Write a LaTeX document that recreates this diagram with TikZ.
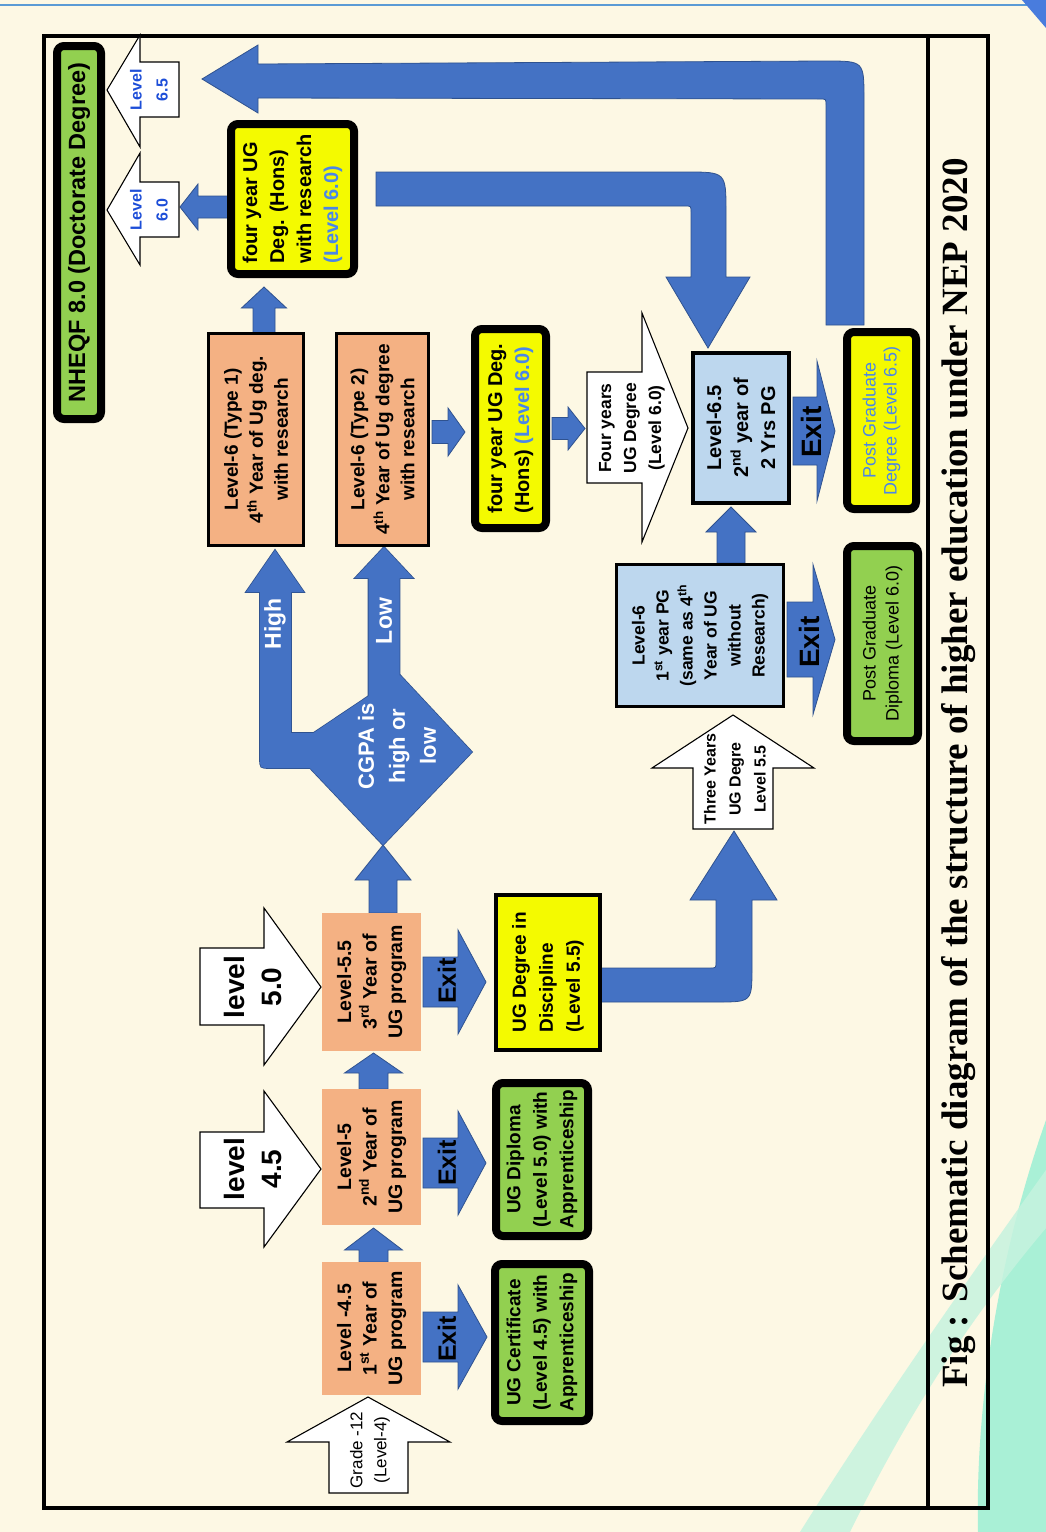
\documentclass[tikz,border=0pt]{standalone}
\usepackage{fontspec}
\setmainfont{Liberation Sans}
\newfontfamily\titlefont{Liberation Serif}
\definecolor{bg}{HTML}{FDF8E4}
\definecolor{arrowblue}{HTML}{4472C4}
\definecolor{arrowedge}{HTML}{2F528F}
\definecolor{salmon}{HTML}{F4B183}
\definecolor{paleblue}{HTML}{BDD7EE}
\definecolor{ygreen}{HTML}{92D050}
\definecolor{yel}{HTML}{F4FA00}
\definecolor{lvlblue}{HTML}{4A86E8}
\definecolor{darkblue}{HTML}{1D4ED8}
\definecolor{mintA}{HTML}{C6F3DF}
\definecolor{mintB}{HTML}{A9F0D6}
\definecolor{topblue}{HTML}{5B9BD5}
\tikzset{
  every node/.style={rotate=90, align=center, inner sep=0pt},
  blockarrow/.style={fill=arrowblue, draw=arrowedge, line width=0.8pt, line join=miter},
  cgpaedge/.style={draw=arrowedge, line width=1.6pt},
  cgpafill/.style={fill=arrowblue},
  whitearrow/.style={fill=white, draw=black, line width=1.1pt, line join=miter},
  boxbase/.style={draw=black, font=\bfseries\fontsize{19}{25}\selectfont},
  thickbox/.style={boxbase, line width=8pt, rounded corners=7pt},
  thinbox/.style={boxbase, line width=3pt},
  plainbox/.style={boxbase, draw=none},
  exittext/.style={font=\bfseries\fontsize{25}{25}\selectfont},
  bigexit/.style={font=\bfseries\fontsize{28}{28}\selectfont},
  whitetext/.style={text=white, font=\bfseries\fontsize{23}{23}\selectfont},
}
\newcommand\hArrow[6]{% x0, xbase, xtip, ycentre, shaft half, head half
  \path[blockarrow] (#1,{#4-#5}) -- (#2,{#4-#5}) -- (#2,{#4-#6}) -- (#3,#4) -- (#2,{#4+#6}) -- (#2,{#4+#5}) -- (#1,{#4+#5}) -- cycle;}
\newcommand\vArrow[6]{% y0, ybase, ytip, xcentre, shaft half, head half
  \path[blockarrow] ({#4-#5},#1) -- ({#4-#5},#2) -- ({#4-#6},#2) -- (#4,#3) -- ({#4+#6},#2) -- ({#4+#5},#2) -- ({#4+#5},#1) -- cycle;}
\begin{document}
\begin{tikzpicture}[x=1pt, y=-1pt]
\useasboundingbox (0,0) rectangle (1046,1532);
\fill[bg] (0,0) rectangle (1046,1532);
% decorations
\fill[mintB] (978,1532) .. controls (975,1400) and (1000,1250) .. (1046,1120) -- (1046,1532) -- cycle;
\fill[mintA, opacity=0.85] (800,1532) .. controls (870,1420) and (960,1290) .. (1046,1170) -- (1046,1228) .. controls (960,1330) and (900,1430) .. (850,1532) -- cycle;
\draw[topblue, line width=1.5pt] (0,5) -- (1030,5);
\fill[topblue!80!blue] (1022,0) -- (1046,0) -- (1046,28) -- cycle;
% frame
\draw[line width=3.5pt] (44,36) rectangle (988,1508);
\draw[line width=3.5pt] (928,36) -- (928,1508);
\node[font=\titlefont\bfseries\fontsize{37}{40}\selectfont] (title) at (959,773) {Fig : Schematic diagram of the structure of higher education under NEP 2020};

% blue block arrows
\hArrow{423}{458}{487}{1337}{25}{52}
\hArrow{423}{458}{486}{1163}{25}{52}
\hArrow{423}{458}{486}{982}{25}{52}
\hArrow{787}{813}{835}{639.5}{37.5}{75}
\hArrow{793}{817}{835}{431}{34}{70}
\hArrow{432}{448}{465}{432}{11.5}{24}
\hArrow{552}{568}{585}{428.5}{11}{21.5}
\hArrow{229}{198}{180}{207}{11}{23}
\vArrow{334}{308}{287}{264}{11}{22.5}
\vArrow{1262}{1250}{1228}{373.5}{14.5}{29}
\vArrow{1089}{1073}{1053}{373.5}{14.5}{29}
\vArrow{913}{880}{845}{383}{14}{28}
\vArrow{563}{532}{507}{731}{14}{25}
% bent arrows
\path[blockarrow] (600,968) -- (710,968) .. controls (716,968) .. (716,962) -- (716,900) -- (690,900) -- (734,831) -- (777,900) -- (752,900) -- (752,967) .. controls (752,1002) .. (717,1002) -- (600,1002) -- cycle;
\path[blockarrow] (376,172) -- (686,172) .. controls (726,172) .. (726,212) -- (726,277) -- (750,277) -- (708,348) -- (666,277) -- (691,277) -- (691,212) .. controls (691,206) .. (685,206) -- (376,206) -- cycle;
\path[blockarrow] (826,325) -- (826,105) .. controls (826,99) .. (820,99) -- (258,98) -- (258,113) -- (202,79) -- (258,45) -- (258,64) -- (826,61) .. controls (864,61) .. (864,99) -- (864,325) -- cycle;
% CGPA decision group
\foreach \st in {cgpaedge, cgpafill} {
  \path[\st] (291,592) -- (291,733) -- (335,733) -- (335,768) -- (270,768) .. controls (260,768) .. (260,758) -- (260,592) -- (246,592) -- (275,550) -- (304,592) -- cycle;
  \path[\st] (368.5,700) -- (368.5,578) -- (355,578) -- (384,547) -- (413,578) -- (399.5,578) -- (399.5,700) -- cycle;
  \path[\st] (400,675) -- (472,752) -- (383,845) -- (291,748) -- cycle;
}
\node[font=\bfseries\fontsize{22}{31}\selectfont, text=white] (cgpa) at (397,746) {CGPA is\\high or\\low};
\node[whitetext] (high) at (275,624) {High};
\node[whitetext] (low) at (384,621) {Low};

% white arrows
\path[whitearrow] (179,62) -- (140,62) -- (140,35) -- (107,90) -- (140,147) -- (140,117) -- (179,117) -- cycle;
\path[whitearrow] (179,182) -- (140,182) -- (140,153) -- (107,210) -- (140,265) -- (140,237) -- (179,237) -- cycle;
\path[whitearrow] (587,372) -- (642,372) -- (642,313) -- (688,428) -- (642,542) -- (642,483) -- (587,483) -- cycle;
\path[whitearrow] (693,829) -- (693,768) -- (652,768) -- (733,715) -- (814,768) -- (773,768) -- (773,829) -- cycle;
\path[whitearrow] (200,948) -- (264,948) -- (264,908) -- (321,987) -- (264,1065) -- (264,1025) -- (200,1025) -- cycle;
\path[whitearrow] (200,1132) -- (264,1132) -- (264,1091) -- (321,1169) -- (264,1247) -- (264,1208) -- (200,1208) -- cycle;
\path[whitearrow] (329,1493) -- (329,1442) -- (287,1442) -- (368,1397) -- (450,1442) -- (408,1442) -- (408,1493) -- cycle;
\node[font=\bfseries\fontsize{16}{26}\selectfont, text=darkblue] (lv65) at (149,90) {Level\\6.5};
\node[font=\bfseries\fontsize{16}{26}\selectfont, text=darkblue] (lv60) at (149,210) {Level\\6.0};
\node[font=\bfseries\fontsize{17.5}{25}\selectfont] (fouryrs) at (632,428) {Four years\\UG Degree\\(Level 6.0)};
\node[font=\bfseries\fontsize{16}{25}\selectfont] (threeyrs) at (735,779) {Three Years\\UG Degre\\Level 5.5};
\node[font=\bfseries\fontsize{28}{37}\selectfont] (lv50) at (253,987) {level\\5.0};
\node[font=\bfseries\fontsize{28}{37}\selectfont] (lv45) at (253,1169) {level\\4.5};
\node[font=\fontsize{17}{24}\selectfont] (grade) at (370,1450) {Grade -12\\(Level-4)};

% boxes
\node[thickbox, fill=ygreen, minimum width=373pt, minimum height=44pt, font=\bfseries\fontsize{23.5}{28}\selectfont] (nheqf) at (79,232.5) {NHEQF 8.0 (Doctorate Degree)};
\node[thickbox, fill=yel, minimum width=150pt, minimum height=123pt, align=left, font=\bfseries\fontsize{20}{27}\selectfont] (research) at (292.5,199) {four year UG\\Deg. (Hons)\\with research\\\textcolor{lvlblue}{(Level 6.0)}};
\node[thinbox, fill=salmon, minimum width=212pt, minimum height=95pt] (t1) at (256,439.5) {Level-6 (Type 1)\\4\textsuperscript{th} Year of Ug deg.\\with research};
\node[thinbox, fill=salmon, minimum width=212pt, minimum height=92pt] (t2) at (382.5,439.5) {Level-6 (Type 2)\\4\textsuperscript{th} Year of Ug degree\\with research};
\node[thickbox, fill=yel, minimum width=199pt, minimum height=71pt, align=left, font=\bfseries\fontsize{20}{27}\selectfont] (fyug) at (510.5,428.5) {four year UG Deg.\\(Hons) \textcolor{lvlblue}{(Level 6.0)}};
\node[boxbase, line width=4pt, fill=paleblue, minimum width=150pt, minimum height=96pt, font=\bfseries\fontsize{20}{27}\selectfont] (l65) at (741,428) {Level-6.5\\2\textsuperscript{nd} year of\\2 Yrs PG};
\node[thickbox, fill=yel, text=lvlblue, minimum width=177pt, minimum height=69pt, font=\fontsize{18}{21}\selectfont] (pgdeg) at (881.5,420.5) {Post Graduate\\Degree (Level 6.5)};
\node[thickbox, fill=ygreen, minimum width=195pt, minimum height=71pt, font=\fontsize{18}{23}\selectfont] (pgdip) at (882.5,643.5) {Post Graduate\\Diploma (Level 6.0)};
\node[thinbox, fill=paleblue, minimum width=142pt, minimum height=167pt, font=\bfseries\fontsize{17.5}{24}\selectfont] (l6pg) at (700,635.5) {Level-6\\1\textsuperscript{st} year PG\\(same as 4\textsuperscript{th}\\Year of UG\\without\\Research)};
\node[plainbox, fill=salmon, minimum width=138pt, minimum height=99pt, font=\bfseries\fontsize{19.5}{25.5}\selectfont] (l55) at (371.5,982) {Level-5.5\\3\textsuperscript{rd} Year of\\UG program};
\node[plainbox, fill=salmon, minimum width=136pt, minimum height=99pt, font=\bfseries\fontsize{19.5}{25.5}\selectfont] (l5) at (371.5,1157) {Level-5\\2\textsuperscript{nd} Year of\\UG program};
\node[plainbox, fill=salmon, minimum width=133pt, minimum height=99pt, font=\bfseries\fontsize{19.5}{25.5}\selectfont] (l45) at (371.5,1328.5) {Level -4.5\\1\textsuperscript{st} Year of\\UG program};
\node[boxbase, line width=4pt, fill=yel, minimum width=155pt, minimum height=104pt, align=left, font=\bfseries\fontsize{19}{27}\selectfont] (ugdeg) at (548,972.5) {UG Degree in\\Discipline\\(Level 5.5)};
\node[thickbox, fill=ygreen, minimum width=153pt, minimum height=92pt, font=\bfseries\fontsize{19}{26.5}\selectfont] (ugdip) at (542,1159.5) {UG Diploma\\(Level 5.0) with\\Apprenticeship};
\node[thickbox, fill=ygreen, minimum width=157pt, minimum height=94pt, font=\bfseries\fontsize{19}{26.5}\selectfont] (ugcert) at (542,1342.5) {UG Certificate\\(Level 4.5) with\\Apprenticeship};

% exit labels
\node[exittext] (x1) at (447,1339) {Exit};
\node[exittext] (x2) at (447,1163) {Exit};
\node[exittext] (x3) at (447,981) {Exit};
\node[bigexit] (x4) at (809,642) {Exit};
\node[bigexit] (x5) at (811,432) {Exit};
\end{tikzpicture}
\end{document}
